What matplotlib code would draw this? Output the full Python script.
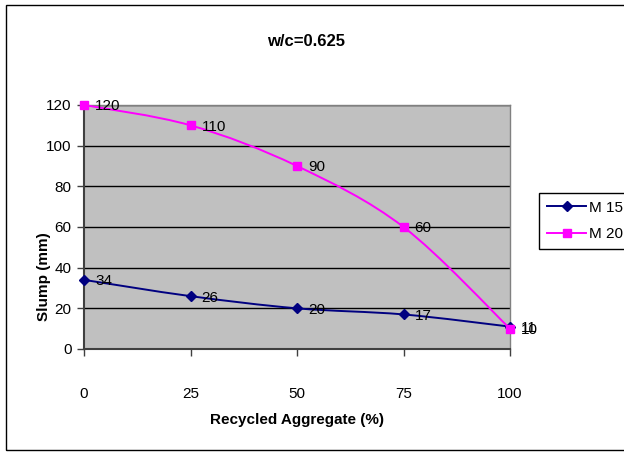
import numpy as np
import matplotlib.pyplot as plt
from matplotlib.path import Path
from matplotlib.patches import PathPatch, Rectangle
from matplotlib.lines import Line2D

plt.rcParams['font.family'] = ['Liberation Sans Narrow', 'Liberation Sans', 'DejaVu Sans']

# ------------ data ------------
recycled = [0, 25, 50, 75, 100]
m15 = [34, 26, 20, 17, 11]
m20 = [120, 110, 90, 60, 10]
series_names = ["M 15", "M 20"]
TITLE = "w/c=0.625"
XLABEL = "Recycled Aggregate (%)"
YLABEL = "Slump (mm)"
# ------------------------------

NAVY = "#000080"
MAGENTA = "#FF00FF"
GREY = "#C0C0C0"


def smooth_path(x, y):
    """Excel-style smoothed line: cubic bezier with Catmull-Rom control points."""
    x = np.asarray(x, float)
    y = np.asarray(y, float)
    n = len(x)
    verts = [(x[0], y[0])]
    codes = [Path.MOVETO]
    for i in range(n - 1):
        p0 = np.array([x[max(i - 1, 0)], y[max(i - 1, 0)]])
        p1 = np.array([x[i], y[i]])
        p2 = np.array([x[i + 1], y[i + 1]])
        p3 = np.array([x[min(i + 2, n - 1)], y[min(i + 2, n - 1)]])
        c1 = p1 + (p2 - p0) / 6.0
        c2 = p2 - (p3 - p1) / 6.0
        verts += [tuple(c1), tuple(c2), tuple(p2)]
        codes += [Path.CURVE4] * 3
    return Path(verts, codes)


fig = plt.figure(figsize=(6.24, 4.54), dpi=100)
fig.patch.set_facecolor("white")

# outer chart border
fig.patches.append(Rectangle((6 / 624, 4 / 454), 1.0, 1 - 9 / 454, transform=fig.transFigure,
                             fill=False, edgecolor="black", linewidth=1.0))

ax = fig.add_axes([84 / 624, 1 - 349 / 454, (510 - 84) / 624, (349 - 105) / 454])
ax.set_facecolor(GREY)
ax.set_xlim(0, 100)
ax.set_ylim(0, 120)
ax.set_xticks(recycled)
ax.set_yticks(range(0, 121, 20))
ax.yaxis.grid(True, color="black", linewidth=1.0)
ax.set_axisbelow(True)

for sp in ("top", "right"):
    ax.spines[sp].set_color("#808080")
    ax.spines[sp].set_linewidth(1.0)
for sp in ("left", "bottom"):
    ax.spines[sp].set_color("#404040")
    ax.spines[sp].set_linewidth(1.5)

ax.tick_params(axis="y", length=5, width=1, color="#404040", labelsize=11, pad=4)
ax.tick_params(axis="x", length=5, width=1, color="#404040", labelsize=11, pad=22)

for vals, col, mk, ms in ((m15, NAVY, "D", 5), (m20, MAGENTA, "s", 5.5)):
    ax.add_patch(PathPatch(smooth_path(recycled, vals), fill=False, edgecolor=col,
                           linewidth=1.4, clip_on=False, zorder=3))
    ax.plot(recycled, vals, linestyle="none", marker=mk, markersize=ms, color=col,
            clip_on=False, zorder=4)
    for xv, yv in zip(recycled, vals):
        ax.annotate(str(yv), (xv, yv), xytext=(8, -1), textcoords="offset points",
                    ha="left", va="center", fontsize=11, color="black", zorder=5)

fig.text(306 / 624, 1 - 42 / 454, TITLE, ha="center", va="center",
         fontsize=12, fontweight="bold")
fig.text(297 / 624, 1 - 420 / 454, XLABEL, ha="center", va="center",
         fontsize=11, fontweight="bold")
fig.text(44 / 624, 1 - 277 / 454, YLABEL, ha="center", va="center",
         fontsize=11, fontweight="bold", rotation=90)

# legend
handles = [Line2D([], [], color=NAVY, marker="D", markersize=5, linewidth=1.4),
           Line2D([], [], color=MAGENTA, marker="s", markersize=5.5, linewidth=1.4)]
leg = fig.legend(handles, series_names, loc="upper left",
                 bbox_to_anchor=(539 / 624, 1 - 193 / 454), fontsize=11,
                 frameon=True, fancybox=False, edgecolor="black", framealpha=1,
                 handlelength=2.6, handletextpad=0.2, borderpad=0.5, labelspacing=0.8,
                 borderaxespad=0)
leg.get_frame().set_linewidth(1.0)

fig.savefig("out.png", dpi=100)
